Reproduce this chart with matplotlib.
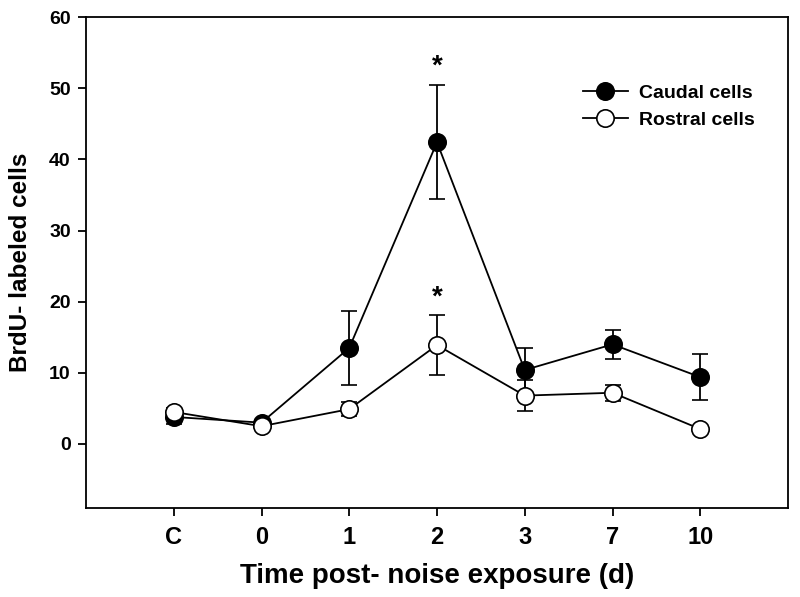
import matplotlib
matplotlib.use("Agg")
import matplotlib.pyplot as plt
import numpy as np

plt.rcParams['font.family'] = ['Liberation Sans', 'DejaVu Sans']
plt.rcParams['font.weight'] = 'bold'

# data
x_labels = ["C", "0", "1", "2", "3", "7", "10"]
caudal_mean = [3.8, 3.0, 13.5, 42.4, 10.4, 14.0, 9.4]
caudal_err = [1.0, 0.4, 5.2, 8.0, 3.1, 2.0, 3.2]
rostral_mean = [4.5, 2.5, 4.9, 13.9, 6.8, 7.2, 2.1]
rostral_err = [0.5, 0.3, 1.0, 4.2, 2.2, 1.1, 0.3]
star_x = [3, 3]
star_y = [53.0, 20.5]

xpos = np.arange(len(x_labels))

fig = plt.figure(figsize=(8, 5.97), dpi=100)
ax = fig.add_axes([0.1075, 0.149, 0.8775, 0.8225])

ax.errorbar(xpos, caudal_mean, yerr=caudal_err, color='black', lw=1.3,
            marker='o', ms=12.5, mfc='black', mec='black', mew=1.2,
            capsize=6, capthick=1.3, elinewidth=1.3, label='Caudal cells', zorder=3)
ax.errorbar(xpos, rostral_mean, yerr=rostral_err, color='black', lw=1.3,
            marker='o', ms=12.5, mfc='white', mec='black', mew=1.2,
            capsize=6, capthick=1.3, elinewidth=1.3, label='Rostral cells', zorder=4)

for sx, sy in zip(star_x, star_y):
    ax.text(sx, sy, '*', ha='center', va='center', fontsize=20, fontweight='bold')

ax.set_xlim(-1, 7)
ax.set_ylim(-9, 60)
ax.set_xticks(xpos)
ax.set_xticklabels(x_labels)
ax.set_yticks(np.arange(0, 61, 10))
ax.tick_params(axis='both', direction='out', length=6, width=1.3)
ax.tick_params(axis='y', labelsize=14, pad=5)
ax.tick_params(axis='x', labelsize=17, pad=7)
ax.tick_params(top=False, right=False)
for s in ax.spines.values():
    s.set_linewidth(1.3)

ax.set_xlabel('Time post- noise exposure (d)', fontsize=20, fontweight='bold', labelpad=10)
ax.set_ylabel('BrdU- labeled cells', fontsize=17.5, fontweight='bold', labelpad=12)

handles, labels = ax.get_legend_handles_labels()
handles = [h[0] for h in handles]
leg = ax.legend(handles, labels, loc='center left', bbox_to_anchor=(0.708, 0.818),
                frameon=False, fontsize=14, handlelength=2.3, handletextpad=0.6,
                labelspacing=0.5, borderaxespad=0, borderpad=0)
for t in leg.get_texts():
    t.set_fontweight('bold')

fig.savefig('out.png', dpi=100)
